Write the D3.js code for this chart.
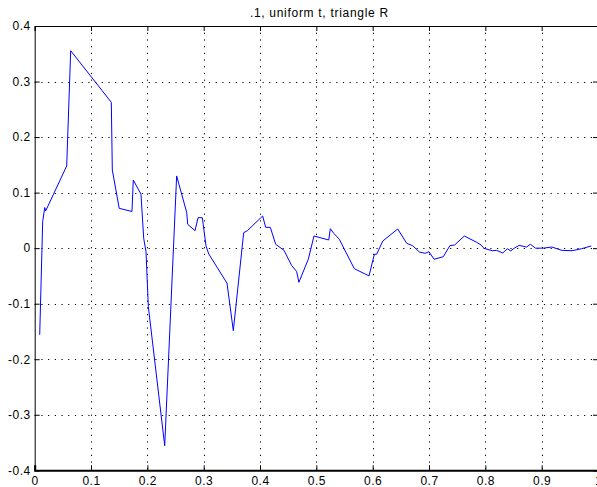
<!DOCTYPE html>
<html>
<head>
<meta charset="utf-8">
<script src="https://cdn.jsdelivr.net/npm/d3@7"></script>
<style>
  body { margin: 0; background: #fff; }
  svg { display: block; }
  text { font-family: "Liberation Sans", Arial, sans-serif; }
</style>
</head>
<body>
<div id="chart"></div>
<script>
// values
var title = ".1, uniform t, triangle R";
var tValues = [0.0089, 0.0142, 0.0178, 0.0195, 0.0568, 0.0639, 0.136, 0.1378, 0.150, 0.1727,
  0.175, 0.1887, 0.1935, 0.1976, 0.2017, 0.2308, 0.252, 0.2698, 0.2716, 0.2846,
  0.290, 0.2976, 0.3041, 0.309, 0.3414, 0.3526, 0.371, 0.3775, 0.4047, 0.410,
  0.4183, 0.4278, 0.4426, 0.456, 0.465, 0.469, 0.4857, 0.4958, 0.522, 0.5248,
  0.531, 0.5408, 0.5674, 0.5935, 0.603, 0.607, 0.618, 0.6444, 0.6604, 0.671,
  0.6828, 0.693, 0.700, 0.709, 0.7254, 0.737, 0.7456, 0.7627, 0.7847, 0.7923,
  0.7976, 0.8124, 0.820, 0.831, 0.839, 0.845, 0.8515, 0.860, 0.873, 0.880,
  0.889, 0.903, 0.918, 0.936, 0.954, 0.971, 0.988];
var errValues = [-0.156, 0.048, 0.073, 0.067, 0.148, 0.3555, 0.2626, 0.1407, 0.0717, 0.066,
  0.1227, 0.097, 0.0177, -0.0064, -0.105, -0.3557, 0.130, 0.0645, 0.043, 0.0314,
  0.0548, 0.0548, 0.0039, -0.0105, -0.063, -0.1486, 0.0278, 0.0314, 0.0579, 0.0375,
  0.0375, 0.0069, -0.0039, -0.031, -0.042, -0.0615, -0.020, 0.0219, 0.0147, 0.035,
  0.0267, 0.0159, -0.037, -0.050, -0.011, -0.011, 0.0129, 0.0345, 0.0087, 0.0044,
  -0.0069, -0.0093, -0.0064, -0.020, -0.0154, 0.0044, 0.0057, 0.0219, 0.0105, 0.0057,
  -0.0003, -0.0046, -0.004, -0.0087, -0.001, -0.005, 0, 0.005, 0.002, 0.007,
  0, 0, 0.002, -0.004, -0.0046, -0.001, 0.0039];
var xTicks = [0, 0.1, 0.2, 0.3, 0.4, 0.5, 0.6, 0.7, 0.8, 0.9, 1];
var yTicks = [-0.4, -0.3, -0.2, -0.1, 0, 0.1, 0.2, 0.3, 0.4];

var width = 597;
var height = 487;
// plot box (the right edge falls just outside the picture, as in the original)
var plotLeft = 34.7, plotRight = 598, plotTop = 26, plotBottom = 470.3;

var points = [];
for (var i = 0; i < tValues.length; i++) {
  points.push([tValues[i], errValues[i]]);
}

var xScale = d3.scaleLinear().domain([0, 1]).range([plotLeft, plotRight]);
var yScale = d3.scaleLinear().domain([-0.4, 0.4]).range([plotBottom, plotTop]);

var svg = d3.select("#chart")
  .append("svg")
  .attr("width", width)
  .attr("height", height);

// dotted grid
svg.append("g").selectAll("line")
  .data(xTicks.slice(1, -1))
  .enter()
  .append("line")
  .attr("x1", function(d) { return Math.round(xScale(d)) + 0.5; })
  .attr("x2", function(d) { return Math.round(xScale(d)) + 0.5; })
  .attr("y1", plotTop)
  .attr("y2", plotBottom)
  .attr("stroke", "#000")
  .attr("stroke-dasharray", "1.2,5.5");

svg.append("g").selectAll("line")
  .data(yTicks.slice(1, -1))
  .enter()
  .append("line")
  .attr("x1", plotLeft)
  .attr("x2", plotRight)
  .attr("y1", function(d) { return Math.round(yScale(d)) + 0.5; })
  .attr("y2", function(d) { return Math.round(yScale(d)) + 0.5; })
  .attr("stroke", "#000")
  .attr("stroke-dasharray", "1.2,5.5");

// the curve
var line = d3.line()
  .x(function(d) { return xScale(d[0]); })
  .y(function(d) { return yScale(d[1]); });

svg.append("path")
  .datum(points)
  .attr("d", line)
  .attr("fill", "none")
  .attr("stroke", "#0000ff")
  .attr("stroke-width", 1);

// axes, ticks pointing inward like matlab
var fmt = function(d) { return String(+d.toFixed(1)); };

var xAxis = d3.axisBottom(xScale).tickValues(xTicks).tickSize(-5).tickPadding(6).tickFormat(fmt);
var xTop = d3.axisTop(xScale).tickValues(xTicks).tickSize(-5).tickFormat("");
var yAxis = d3.axisLeft(yScale).tickValues(yTicks).tickSize(-5).tickPadding(4).tickFormat(fmt);
var yRight = d3.axisRight(yScale).tickValues(yTicks).tickSize(-5).tickFormat("");

svg.append("g")
  .attr("class", "x axis")
  .attr("transform", "translate(0," + plotBottom + ")")
  .call(xAxis);

svg.append("g")
  .attr("transform", "translate(0," + plotTop + ")")
  .call(xTop);

svg.append("g")
  .attr("class", "y axis")
  .attr("transform", "translate(" + plotLeft + ",0)")
  .call(yAxis);

svg.append("g")
  .attr("transform", "translate(" + plotRight + ",0)")
  .call(yRight);

svg.selectAll(".tick text")
  .attr("font-size", "12px")
  .attr("letter-spacing", "0.5px")
  .attr("font-family", "Liberation Sans, Arial, sans-serif")
  .attr("fill", "#000");
svg.select(".x.axis .domain").attr("stroke-width", 2);

svg.append("text")
  .attr("x", (plotLeft + plotRight) / 2 + 3)
  .attr("y", 17)
  .attr("text-anchor", "middle")
  .attr("font-size", "12px")
  .attr("letter-spacing", "0.7px")
  .text(title);
</script>
</body>
</html>
